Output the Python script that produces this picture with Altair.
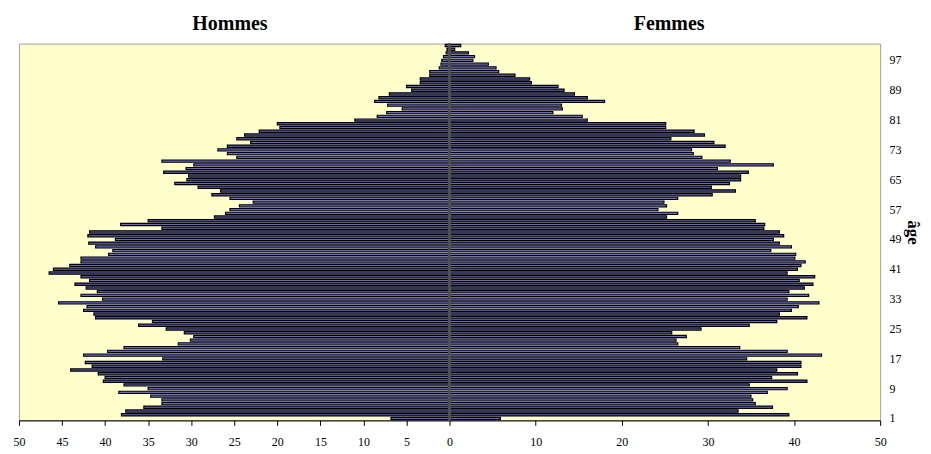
import altair as alt
import pandas as pd

ages = list(range(1, 102))

hommes = [6.8, 38.1, 37.6, 35.5, 33.4, 33.4, 34.7, 38.4, 35.0, 37.8,
          40.2, 40.0, 40.8, 44.0, 41.5, 42.3, 33.3, 42.5, 39.7, 37.8,
          31.5, 30.1, 29.7, 30.8, 32.9, 36.1, 34.5, 41.1, 41.3, 42.5,
          42.1, 45.4, 40.3, 42.8, 40.9, 42.2, 43.5, 41.8, 42.8, 46.5,
          46.0, 44.1, 42.8, 42.8, 39.6, 39.1, 41.1, 41.9, 38.8, 42.0,
          41.8, 33.4, 38.2, 35.0, 27.3, 26.0, 25.5, 24.4, 22.8, 25.5,
          27.6, 26.6, 29.2, 31.9, 30.5, 30.3, 33.2, 30.6, 29.7, 33.4,
          24.7, 25.8, 26.9, 25.8, 23.1, 24.7, 23.8, 22.1, 19.7, 20.0,
          11.0, 8.4, 7.3, 5.5, 7.2, 8.7, 8.2, 7.0, 4.4, 5.0,
          3.4, 3.4, 2.3, 2.3, 1.2, 1.0, 0.9, 0.7, 0.4, 0.3,
          0.5]

femmes = [5.9, 39.4, 33.5, 37.5, 35.5, 35.2, 35.0, 36.9, 39.2, 34.8,
          41.5, 37.4, 40.4, 38.0, 40.8, 40.8, 34.5, 43.2, 39.2, 33.7,
          26.5, 26.3, 27.5, 25.8, 29.2, 34.8, 38.0, 41.5, 38.3, 39.7,
          40.5, 42.9, 39.2, 41.7, 39.4, 41.2, 42.2, 40.6, 42.4, 39.2,
          40.4, 40.8, 41.3, 40.1, 40.2, 37.3, 39.7, 38.3, 37.6, 38.8,
          38.3, 36.5, 36.6, 35.5, 25.2, 26.5, 24.2, 25.2, 24.9, 26.5,
          30.5, 33.2, 30.4, 32.5, 33.8, 33.8, 34.7, 31.1, 37.6, 32.6,
          29.3, 28.3, 28.1, 32.0, 30.7, 25.7, 29.6, 28.4, 25.1, 25.1,
          16.0, 15.4, 12.0, 13.1, 13.0, 18.0, 16.0, 14.5, 13.3, 12.6,
          9.5, 9.3, 7.6, 5.7, 5.4, 4.5, 2.7, 2.9, 2.2, 0.6,
          1.3]

titres = ["Hommes", "Femmes"]
titre_pos = [-25.5, 25.5]

age_ticks = list(range(1, 98, 8))
x_ticks = [-50, -45, -40, -35, -30, -25, -20, -15, -10, -5, 0, 10, 20, 30, 40, 50]

df = pd.DataFrame({
    "age": ages + ages,
    "v": [-h for h in hommes] + femmes,
    "sexe": ["Hommes"] * len(ages) + ["Femmes"] * len(ages),
})
df_t = pd.DataFrame({"label": titres, "pos": titre_pos})

serif = "Liberation Serif"

xscale = alt.Scale(domain=[-50, 50], nice=False)

bars = alt.Chart(df).mark_bar(
    fill="#6666CC", stroke="#000000", strokeWidth=1.15
).encode(
    x=alt.X("v:Q", scale=xscale,
            axis=alt.Axis(values=x_ticks, labelExpr="abs(datum.value)",
                          title=None, grid=False, domainColor="#000000",
                          tickColor="#000000", tickSize=5, labelPadding=11,
                          labelFont=serif, labelFontSize=12, labelColor="#000000",
                          labelFlush=False, labelOverlap=False)),
    y=alt.Y("age:O", sort="descending",
            scale=alt.Scale(paddingInner=0.4, paddingOuter=0.2),
            axis=alt.Axis(orient="right", values=age_ticks, ticks=False,
                          domain=False, labelPadding=9, labelFont=serif,
                          labelFontSize=12, labelColor="#000000", labelAngle=0,
                          title="âge", titleFont=serif, titleFontSize=17,
                          titleFontWeight="bold", titleColor="#000000",
                          titlePadding=2)),
)

center = alt.Chart(df_t).mark_rule(color="#505050", strokeWidth=3).encode(
    x=alt.datum(0, scale=xscale)
)

titles = alt.Chart(df_t).mark_text(
    font=serif, fontSize=20, fontWeight="bold", baseline="alphabetic",
    color="#000000"
).encode(
    x=alt.X("pos:Q", scale=xscale),
    y=alt.value(-14),
    text="label:N",
)

chart = alt.layer(bars, center, titles).properties(
    width=864, height=378,
    padding={"left": 5, "top": 5, "right": 2, "bottom": 0},
).configure_view(
    fill="#FFFFCC", stroke="#A0A0A0", strokeWidth=1
)

chart.save("out.html", embed_options={"renderer": "svg", "actions": False})
